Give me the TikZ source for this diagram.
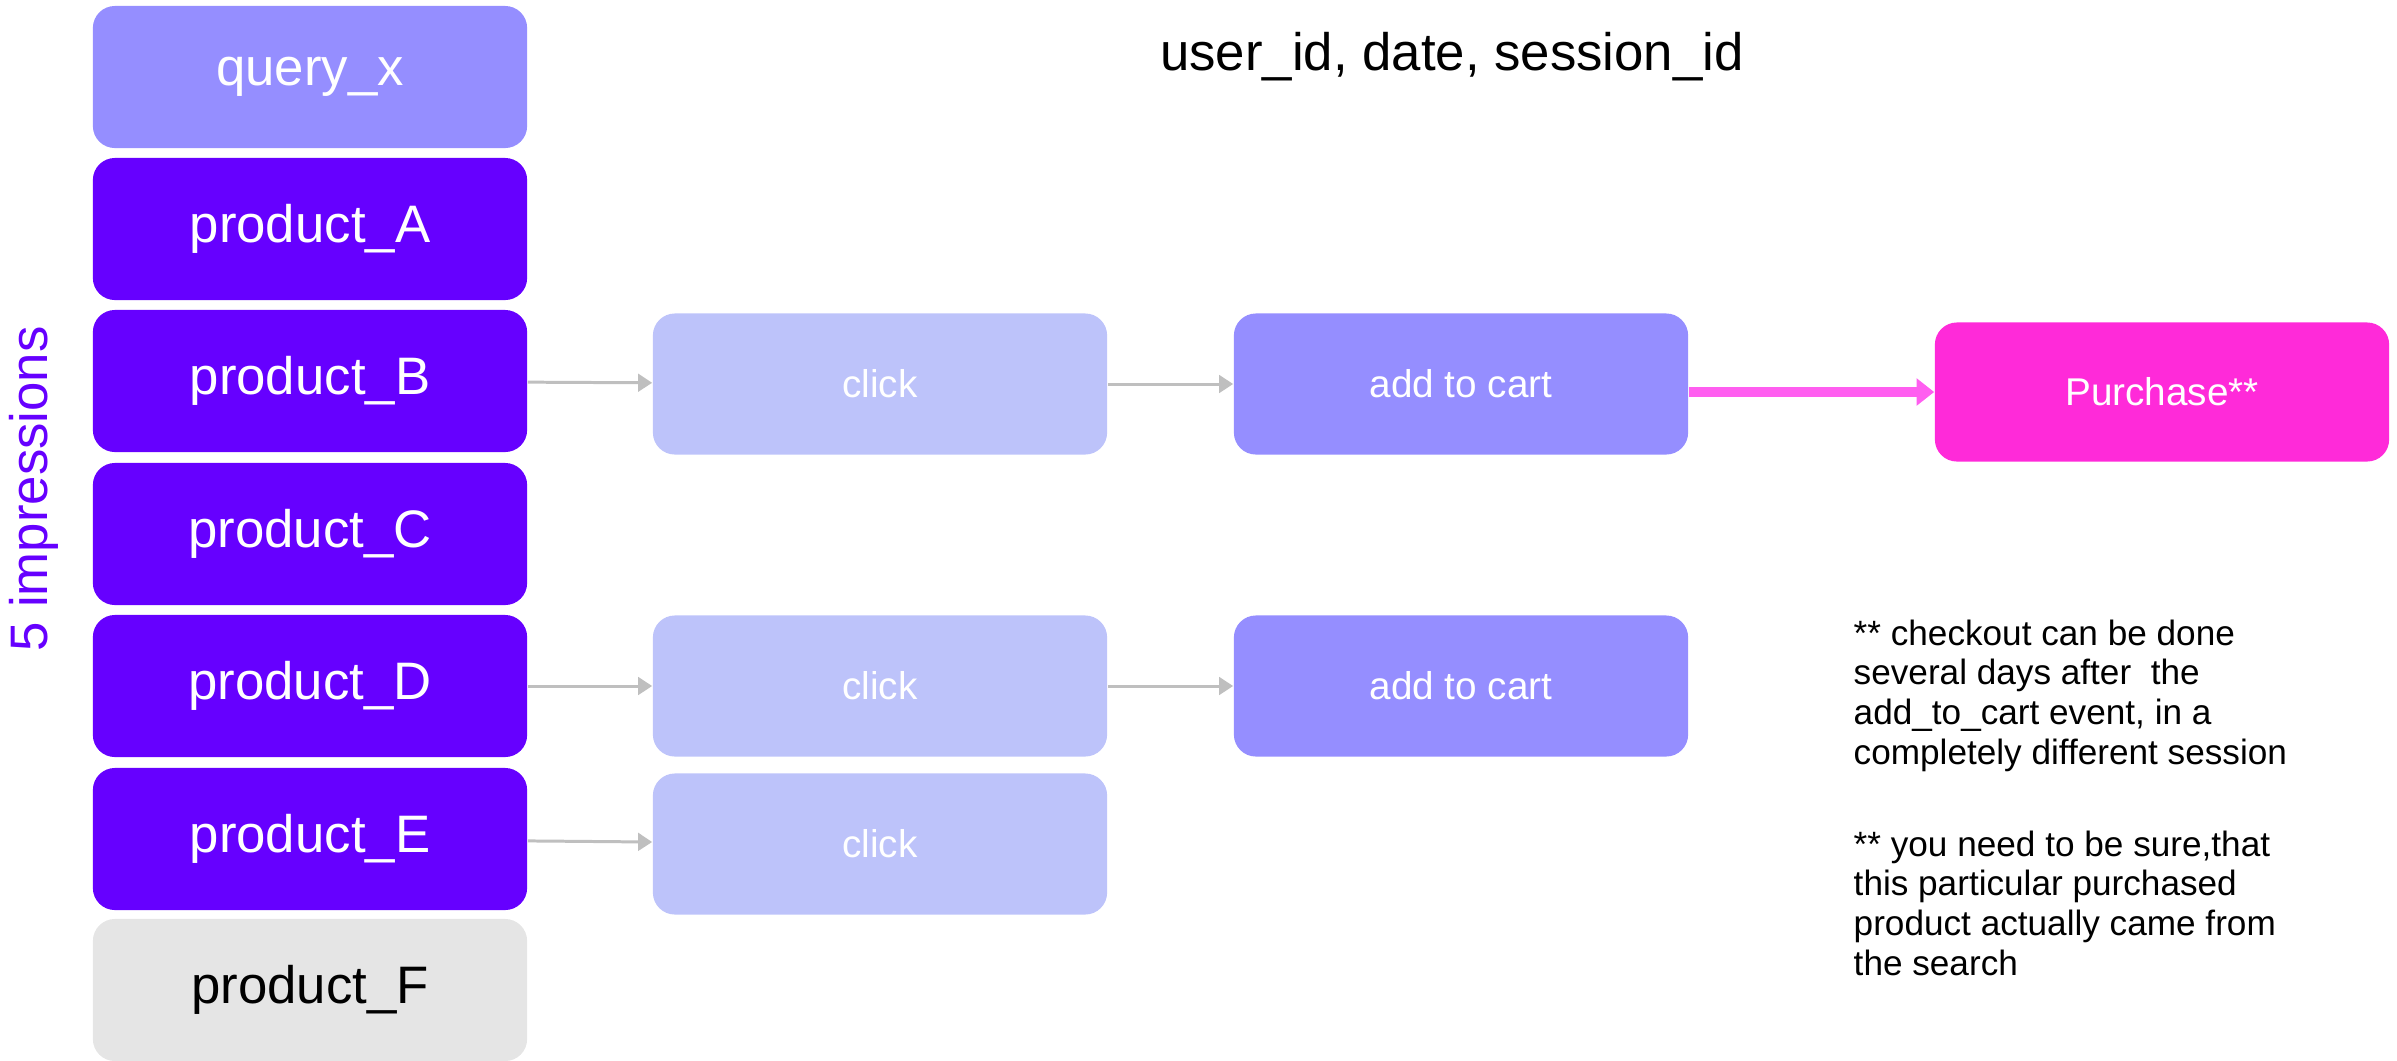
\documentclass[tikz,border=0pt]{standalone}
\usepackage{fontspec}
\setmainfont{Liberation Sans}
\usetikzlibrary{arrows.meta}
\definecolor{prodviolet}{HTML}{6600FF}
\definecolor{querylilac}{HTML}{958EFF}
\definecolor{clickblue}{HTML}{BDC3FA}
\definecolor{offgrey}{HTML}{E5E5E5}
\definecolor{buypink}{HTML}{FF2AD9}
\definecolor{linkpink}{HTML}{FF5EF0}
\definecolor{linkgrey}{HTML}{BFBFBF}

\begin{document}
\begin{tikzpicture}[x=0.01cm,y=-0.01cm,
    box/.style={rounded corners=0.22cm, inner sep=0pt, text=white},
    prod/.style={box, fill=prodviolet, minimum width=4.34cm, minimum height=1.42cm, font=\fontsize{15}{18}\selectfont},
    event/.style={box, minimum width=4.54cm, minimum height=1.41cm, font=\fontsize{11}{13}\selectfont},
    flow/.style={-{Triangle[length=4pt,width=5pt]}, draw=linkgrey, line width=0.85pt},
    note/.style={anchor=north west, align=left, inner sep=0pt, font=\fontsize{10}{11.3}\selectfont}]

            % Khung hinh
            \useasboundingbox (0,0) rectangle (2397,1060);

            % Cot truy van va san pham
            \node[prod, fill=querylilac] (q) at (310,77) {query\_x};
            \foreach \n/\y in {A/229,B/381,C/534,D/686,E/839}
                \node[prod] (p\n) at (310,\y) {product\_\n};
            \node[prod, fill=offgrey, text=black] (pF) at (310,990) {product\_F};

            % Nhan doc
            \node[rotate=90, text=prodviolet, font=\fontsize{15}{18}\selectfont] (imp) at (34,489) {5 impressions};

            % Tieu de
            \node[font=\fontsize{15}{18}\selectfont] (keys) at (1452,57) {user\_id, date, session\_id};

            % Cac su kien
            \node[event, fill=clickblue] (clickB) at (880,384) {click};
            \node[event, fill=clickblue] (clickD) at (880,686) {click};
            \node[event, fill=clickblue] (clickE) at (880,844) {click};
            \node[event, fill=querylilac] (cartB) at (1461,384) {add to cart};
            \node[event, fill=querylilac] (cartD) at (1461,686) {add to cart};
            \node[event, fill=buypink, minimum height=1.39cm] (buy) at (2162,392) {Purchase**};

            % Mui ten
            \draw[flow] (pB) -- (clickB);
            \draw[flow] (clickB) -- (cartB);
            \draw[flow] (pD) -- (clickD);
            \draw[flow] (clickD) -- (cartD);
            \draw[flow] (pE) -- (clickE);
            \draw[-{Triangle[length=5pt,width=7.5pt]}, draw=linkpink, line width=2.6pt] (cartB.east |- buy.west) -- (buy.west); % mua hang

            % Ghi chu
            \node[note] (note1) at (1853,619) {** checkout can be done\\several days after\ \ the\\add\_to\_cart event, in a\\completely different session};
            \node[note] (note2) at (1853,830) {** you need to be sure,that\\this particular purchased\\product actually came from\\the search};

\end{tikzpicture}
\end{document}
